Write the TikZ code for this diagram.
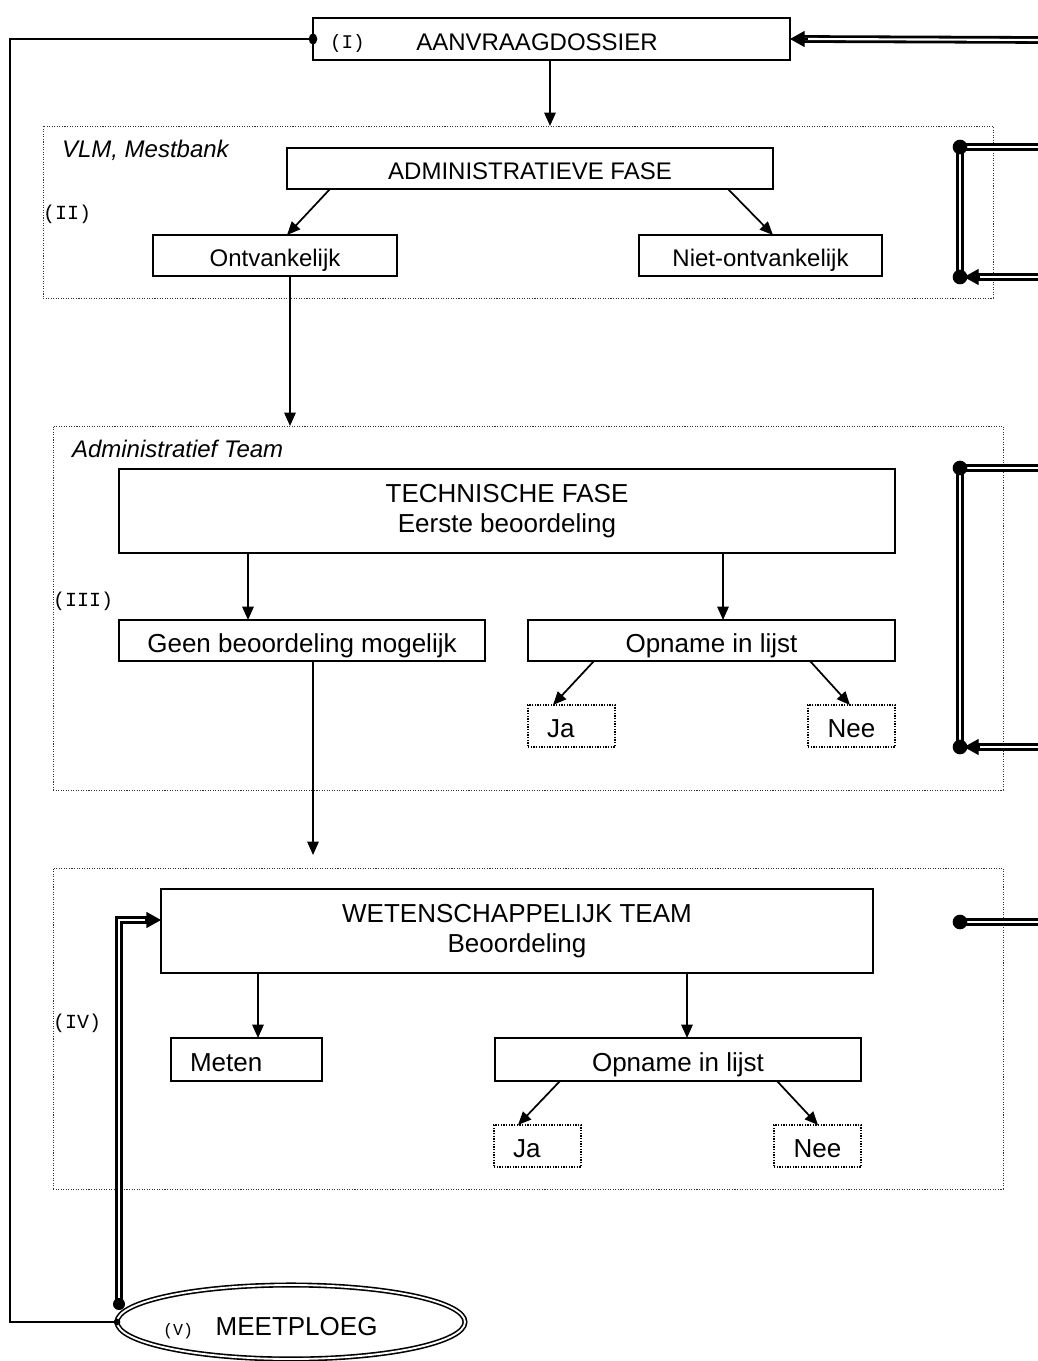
\documentclass[tikz,border=0pt]{standalone}
\usepackage{fontspec}
\setmainfont{Liberation Sans}
\newfontfamily\monof{Liberation Mono}
\usetikzlibrary{arrows.meta,calc,shapes.geometric}
\newcommand\mfs{\fontsize{18}{22.5}\selectfont}
\newcommand\lfs{\fontsize{19.5}{22.5}\selectfont}
\tikzset{
  every node/.style={inner sep=0pt, outer sep=0pt},
  box/.style 2 args={draw, line width=1.5pt, minimum width=#1*0.75pt, minimum height=#2*0.75pt, font=\mfs, align=center},
  one/.style={text height=16pt, text depth=0pt},
  onel/.style={font=\lfs, text height=18.5pt, text depth=0pt},
  region/.style 2 args={draw=black!80, line width=0.7pt, dash pattern=on 0.8pt off 1.1pt, minimum width=#1*0.75pt, minimum height=#2*0.75pt},
  dotbox/.style 2 args={draw, line width=0.9pt, dash pattern=on 0.9pt off 1.1pt, minimum width=#1*0.75pt, minimum height=#2*0.75pt, font=\lfs, text height=17pt, text depth=0pt},
  lab/.style={font=\mfs\itshape, anchor=base west},
  roman/.style={font=\monof\fontsize{15}{17}\selectfont, anchor=base west},
  arr/.style={line width=1.3pt, -{Triangle[length=10pt,width=8.5pt]}},
  thinl/.style={line width=1.5pt},
  dbl/.style={line width=2.1pt, double=white, double distance=1.6pt, line join=miter},
  dbltip/.style={line width=1pt, -{Triangle[length=11pt,width=12pt]}},
}
\begin{document}
\begin{tikzpicture}[x=0.75pt,y=-0.75pt]
\useasboundingbox[fill=white] (0,0) rectangle (1038,1361);

% ---------- (I) ----------
\node[box={477}{42}] (dossier) at (551.5,39) {};
\node[roman, font=\monof\fontsize{14.5}{16}\selectfont] (l1) at (330,48) {(I)};
\node[font=\mfs, anchor=base] (t1) at (537,50) {AANVRAAGDOSSIER};

% ---------- (II) ----------
\node[region={950}{172}] (r2) at (518,212) {};
\node[lab] (vlm) at (62,157) {VLM, Mestbank};
\node[roman] (l2) at (43,219) {(II)};
\node[box={486}{41}, one] (admin) at (530,168.5) {ADMINISTRATIEVE FASE};
\node[box={244}{41}, one] (ontv) at (275,255.5) {Ontvankelijk};
\node[box={243}{41}, one] (niet) at (760.5,255.5) {Niet-ontvankelijk};

% ---------- (III) ----------
\node[region={950}{364}] (r3) at (528,608) {};
\node[lab] (adm) at (72,457) {Administratief Team};
\node[roman] (l3) at (53,606) {(III)};
\node[box={776}{84}, font=\lfs] (tech) at (507,511) {TECHNISCHE FASE\\Eerste beoordeling};
\node[box={366}{41}, onel] (geen) at (302,640.5) {Geen beoordeling mogelijk};
\node[box={367}{41}, onel] (opn1) at (711.5,640.5) {Opname in lijst};
\node[dotbox={87}{42}, align=left, text width=49*0.75pt, inner xsep=19*0.75pt] (ja1) at (571.5,726) {Ja};
\node[dotbox={87}{42}] (nee1) at (851.5,726) {Nee};

% ---------- (IV) ----------
\node[region={950}{321}] (r4) at (528,1028.5) {};
\node[roman] (l4) at (53,1028) {(IV)};
\node[box={712}{84}, font=\lfs] (wet) at (517,931) {WETENSCHAPPELIJK TEAM\\Beoordeling};
\node[box={151}{43}, onel, text height=17.5pt, align=left, text width=113*0.75pt, inner xsep=19*0.75pt] (meten) at (246.5,1059.5) {Meten};
\node[box={366}{43}, onel, text height=17.5pt] (opn2) at (678,1059.5) {Opname in lijst};
\node[dotbox={87}{42}, align=left, text width=49*0.75pt, inner xsep=19*0.75pt] (ja2) at (537.5,1146) {Ja};
\node[dotbox={87}{42}] (nee2) at (817.5,1146) {Nee};

% ---------- (V) ----------
\node[ellipse, draw, line width=1.2pt, double=white, double distance=1.4pt,
      minimum width=348*0.75pt, minimum height=74*0.75pt] (meet) at (291,1322) {};
\node[anchor=base west, font=\lfs] (mtxt) at (163,1335)
      {{\monof\fontsize{12.5}{14}\selectfont(V)}\hspace{17pt}MEETPLOEG};

% ---------- connectors ----------
\coordinate (x550) at (550,0);
\coordinate (x290) at (290,0);
\draw[arr] (dossier.south -| x550) -- (x550 |- r2.north);
\draw[arr] ($(admin.south west)+(43,0)$) -- ($(ontv.north west)+(134,0)$);
\draw[arr] ($(admin.south west)+(441,0)$) -- ($(niet.north west)+(134,0)$);
\draw[arr] (ontv.south -| x290) -- (x290 |- r3.north);
\draw[arr] ($(tech.south west)+(129,0)$) -- ($(geen.north west)+(129,0)$);
\draw[arr] ($(tech.south west)+(604,0)$) -- ($(opn1.north west)+(195,0)$);
\draw[arr] ($(opn1.south west)+(66,0)$) -- ($(ja1.north west)+(25,0)$);
\draw[arr] ($(opn1.south west)+(282,0)$) -- ($(nee1.north west)+(42,0)$);
\coordinate (g2) at (313,855);
\draw[arr] (geen.south -| g2) -- (g2);
\draw[arr] ($(wet.south west)+(97,0)$) -- ($(meten.north west)+(87,0)$);
\draw[arr] ($(wet.south west)+(526,0)$) -- ($(opn2.north west)+(192,0)$);
\draw[arr] ($(opn2.south west)+(65,0)$) -- ($(ja2.north west)+(24,0)$);
\draw[arr] ($(opn2.south west)+(282,0)$) -- ($(nee2.north west)+(44,0)$);

% left feedback line
\coordinate (lc) at (10,700);
\draw[thinl] (dossier.west) -| (lc) |- (meet.west);
\fill (dossier.west) ellipse (3.2pt and 4.2pt);
\fill (meet.west) circle (2.5pt);

% double line meetploeg -> wetenschappelijk team
\coordinate (m1) at (119,1304);
\coordinate (mc) at (119,920);
\draw[dbl] (m1) -- (mc) -- ($(mc -| wet.west)+(-12,0)$);
\draw[dbltip] ($(mc -| wet.west)+(-16,0)$) -- (mc -| wet.west);
\fill (m1) circle (4.5pt);

% double line into dossier
\coordinate (e0) at (1045,40);
\draw[dbl] (e0) -- ($(dossier.east)+(13,0)$);
\draw[dbltip] ($(dossier.east)+(18,0)$) -- (dossier.east);

% right loops
\coordinate (a1) at (960,147);
\coordinate (a2) at (960,277);
\coordinate (a3) at (1045,147);
\coordinate (a4) at (1045,277);
\coordinate (b1) at (960,468);
\coordinate (b2) at (960,747);
\coordinate (b3) at (1045,468);
\coordinate (b4) at (1045,747);
\coordinate (c1) at (960,922);
\coordinate (c3) at (1045,922);
\draw[dbl] (a3) -- (a1) -- (a2);
\draw[dbl] (a4) -- ($(a2)+(16,0)$);
\draw[dbltip] ($(a2)+(20,0)$) -- ($(a2)+(4,0)$);
\fill (a1) circle (5.5pt);
\fill (a2) circle (5.5pt);
\draw[dbl] (b3) -- (b1) -- (b2);
\draw[dbl] (b4) -- ($(b2)+(16,0)$);
\draw[dbltip] ($(b2)+(20,0)$) -- ($(b2)+(4,0)$);
\fill (b1) circle (5.5pt);
\fill (b2) circle (5.5pt);
\draw[dbl] (c3) -- (c1);
\fill (c1) circle (5.5pt);
\end{tikzpicture}
\end{document}
